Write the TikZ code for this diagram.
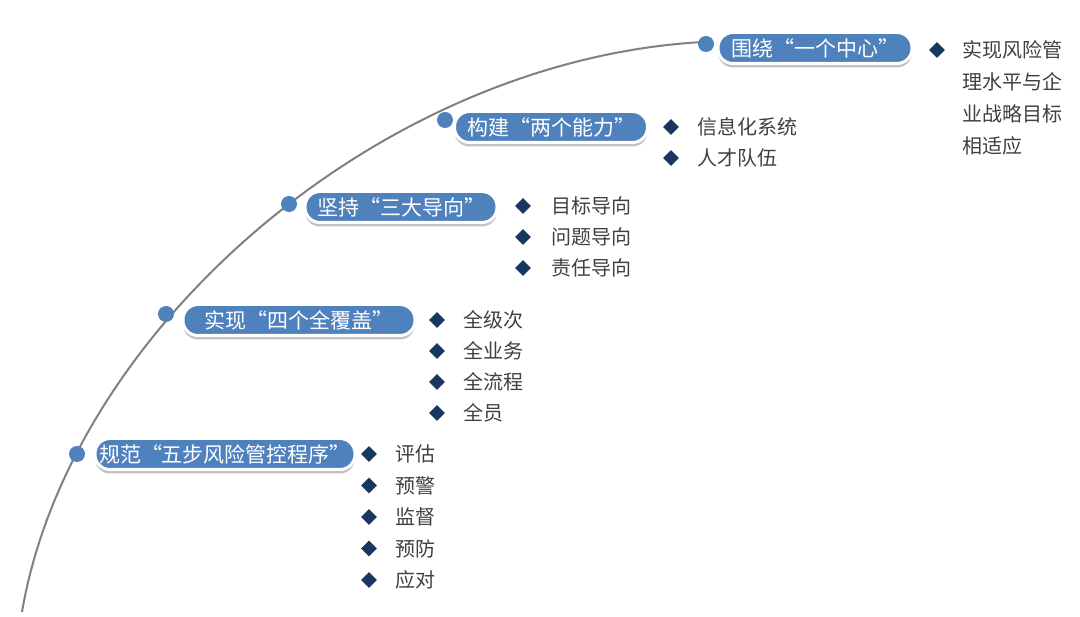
\documentclass[tikz,border=0pt]{standalone}
\usepackage{fontspec}
\setmainfont{Noto Sans CJK SC}
\usetikzlibrary{shapes.geometric,shadows,positioning}
\definecolor{pillblue}{RGB}{79,129,189}
\definecolor{navy}{RGB}{23,55,94}
\definecolor{txtgrey}{RGB}{64,64,64}
\tikzset{
  pill/.style={rectangle, rounded corners=15pt, draw=white, line width=3pt,
    fill=pillblue, text=white, minimum height=31pt, inner xsep=0pt,
    font=\fontsize{21}{24}\selectfont,
    drop shadow={shadow xshift=0pt, shadow yshift=-4pt, opacity=0.4, fill=black!60}},
  dot/.style={circle, fill=pillblue, minimum size=16pt, inner sep=0pt},
  bullet/.style={diamond, fill=navy, minimum size=16pt, inner sep=0pt},
  item/.style={anchor=west, text=txtgrey, inner sep=0pt, font=\fontsize{20}{32}\selectfont},
}
\begin{document}
\begin{tikzpicture}[x=1pt,y=-1pt]
	\useasboundingbox (0,0) rectangle (1080,617);
	
	% the arc
	\coordinate (arcstart) at (22,612);
	\coordinate (arcend) at (703,42);
	\draw[gray, line width=2pt] (arcstart) .. controls (70,330) and (380,60) .. (arcend);
	
	% dots on the arc
	\node[dot] (c1) at (706,44) {};
	\node[dot] (c2) at (445,120) {};
	\node[dot] (c3) at (289,204) {};
	\node[dot] (c4) at (166,314) {};
	\node[dot] (c5) at (77,454) {};
	
	% headings
	\node[pill, minimum width=194pt] (p1) at (815,48) {围绕“一个中心”};
	\node[pill, minimum width=193pt] (p2) at (551,127) {构建“两个能力”};
	\node[pill, minimum width=192pt] (p3) at (401,207) {坚持“三大导向”};
	\node[pill, minimum width=232pt] (p4) at (299,320) {实现“四个全覆盖”};
	\node[pill, minimum width=260pt] (p5) at (225,454) {规范“五步风险管控程序”};
	
	% items
	\node[bullet] (b1) at (937,50) {};
	\node[item, anchor=north west, align=left] (t1) at (962,40) {实现风险管\\理水平与企\\业战略目标\\相适应};
	
	\foreach \txt [count=\i from 0] in {信息化系统,人才队伍}
	{
		\node[bullet] (b2\i) at (671,{127+31*\i}) {};
		\node[item, right=18pt of b2\i] (t2\i) {\txt};
	}
	
	\foreach \txt [count=\i from 0] in {目标导向,问题导向,责任导向}
	{
		\node[bullet] (b3\i) at (523,{206+31*\i}) {};
		\node[item, right=20pt of b3\i] (t3\i) {\txt};
	}
	
	\foreach \txt [count=\i from 0] in {全级次,全业务,全流程,全员}
	{
		\node[bullet] (b4\i) at (437,{320+31*\i}) {};
		\node[item, right=18pt of b4\i] (t4\i) {\txt};
	}
	
	\foreach \txt [count=\i from 0] in {评估,预警,监督,预防,应对}
	{
		\node[bullet] (b5\i) at (369,{454+31.5*\i}) {};
		\node[item, right=18pt of b5\i] (t5\i) {\txt};
	}
	
\end{tikzpicture}
\end{document}
